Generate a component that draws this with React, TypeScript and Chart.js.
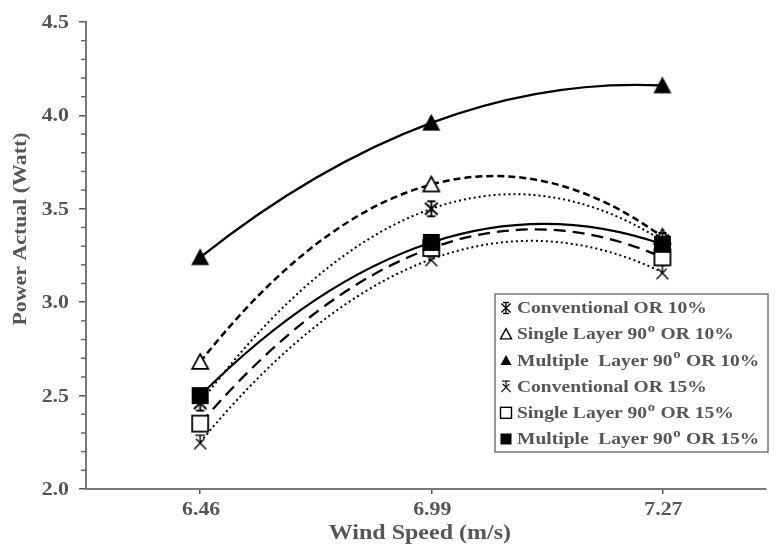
import React, { useEffect, useRef } from 'react';
import { Chart, registerables } from 'chart.js';
Chart.register(...registerables);

// ---- data ----
const windSpeeds = ['6.46', '6.99', '7.27'];
const conv10 = [2.46, 3.5, 3.33];
const single10 = [2.68, 3.63, 3.35];
const multi10 = [3.24, 3.96, 4.16];
const conv15 = [2.25, 3.23, 3.16];
const single15 = [2.35, 3.29, 3.24];
const multi15 = [2.5, 3.32, 3.31];
const seriesNames = [
  'Conventional OR 10%',
  'Single Layer 90^o OR 10%',
  'Multiple  Layer 90^o OR 10%',
  'Conventional OR 15%',
  'Single Layer 90^o OR 15%',
  'Multiple  Layer 90^o OR 15%',
];
const yMin = 2.0;
const yMax = 4.5;
const yMajorStep = 0.5;
const yMinorStep = 0.1;
const xTitle = 'Wind Speed (m/s)';
const yTitle = 'Power Actual (Watt)';

const FONT = '"Liberation Serif", "Times New Roman", serif';
const TEXT = '#555555';

type Kind = 'star' | 'triOpen' | 'triFilled' | 'cross15' | 'sqOpen' | 'sqFilled';

function drawMarker(ctx: CanvasRenderingContext2D, kind: Kind, cx: number, cy: number, s: number) {
  const h = s / 2;
  ctx.save();
  ctx.strokeStyle = '#000';
  ctx.fillStyle = '#000';
  ctx.setLineDash([]);
  const line = (x1: number, y1: number, x2: number, y2: number) => {
    ctx.beginPath();
    ctx.moveTo(x1, y1);
    ctx.lineTo(x2, y2);
    ctx.stroke();
  };
  switch (kind) {
    case 'triFilled':
    case 'triOpen': {
      ctx.beginPath();
      ctx.moveTo(cx, cy - h);
      ctx.lineTo(cx + h, cy + h * 0.85);
      ctx.lineTo(cx - h, cy + h * 0.85);
      ctx.closePath();
      if (kind === 'triFilled') ctx.fill();
      else {
        ctx.fillStyle = '#fff';
        ctx.fill();
        ctx.lineWidth = Math.max(1.4, s / 9);
        ctx.stroke();
      }
      break;
    }
    case 'sqFilled':
      ctx.fillRect(cx - h, cy - h, s, s);
      break;
    case 'sqOpen':
      ctx.fillStyle = '#fff';
      ctx.fillRect(cx - h, cy - h, s, s);
      ctx.lineWidth = Math.max(1.4, s / 9);
      ctx.strokeRect(cx - h, cy - h, s, s);
      break;
    case 'star':
      ctx.lineWidth = Math.max(1.4, s / 8);
      line(cx, cy - h, cx, cy + h);
      line(cx - h * 0.85, cy - h * 0.8, cx + h * 0.85, cy + h * 0.8);
      line(cx + h * 0.85, cy - h * 0.8, cx - h * 0.85, cy + h * 0.8);
      line(cx - h * 0.55, cy - h, cx + h * 0.55, cy - h);
      line(cx - h * 0.55, cy + h, cx + h * 0.55, cy + h);
      break;
    case 'cross15':
      ctx.lineWidth = Math.max(1.2, s / 10);
      line(cx - h * 0.7, cy - h, cx + h * 0.7, cy - h);
      line(cx, cy - h, cx, cy - h * 0.1);
      line(cx - h * 0.6, cy - h * 0.5, cx + h * 0.85, cy + h);
      line(cx + h * 0.6, cy - h * 0.5, cx - h * 0.85, cy + h);
      break;
  }
  ctx.restore();
}

function markerCanvas(kind: Kind, s: number): HTMLCanvasElement {
  const c = document.createElement('canvas');
  const size = Math.ceil(s + 4);
  c.width = size;
  c.height = size;
  const ctx = c.getContext('2d')!;
  drawMarker(ctx, kind, size / 2, size / 2, s);
  return c;
}

const kinds: Kind[] = ['star', 'triOpen', 'triFilled', 'cross15', 'sqOpen', 'sqFilled'];
const dataSizes = [15, 16, 18, 14, 16, 17];
const dashes: number[][] = [[2, 3], [7, 4], [], [2, 3], [12, 7], []];
const widths = [2, 2.5, 2.3, 2, 2.3, 2.2];
const orders = [3, 4, 2, 5, 1, 0];

function sText(
  ctx: CanvasRenderingContext2D,
  text: string,
  x: number,
  y: number,
  align: CanvasTextAlign,
  sx: number,
) {
  ctx.save();
  ctx.translate(x, y);
  ctx.scale(sx, 1);
  ctx.textAlign = align;
  ctx.fillText(text, 0, 0);
  ctx.restore();
}

// Smooth each series with the parabola through its three points (like a 2nd order trendline)
const quadCurvePlugin = {
  id: 'quadCurve',
  beforeDatasetDraw(chart: any, args: any) {
    const meta = args.meta;
    const line = meta.dataset;
    if (!line || !line.updateControlPoints) return;
    line.updateControlPoints(chart.chartArea, 'x');
    const pts = meta.data;
    if (pts.length !== 3) return;
    const [a, b, c] = pts;
    const x0 = a.x, x1 = b.x, x2 = c.x, y0 = a.y, y1 = b.y, y2 = c.y;
    const deriv = (x: number) =>
      (y0 * (2 * x - x1 - x2)) / ((x0 - x1) * (x0 - x2)) +
      (y1 * (2 * x - x0 - x2)) / ((x1 - x0) * (x1 - x2)) +
      (y2 * (2 * x - x0 - x1)) / ((x2 - x0) * (x2 - x1));
    pts.forEach((p: any, i: number) => {
      const m = deriv(p.x);
      const dPrev = i > 0 ? (p.x - pts[i - 1].x) / 3 : 0;
      const dNext = i < pts.length - 1 ? (pts[i + 1].x - p.x) / 3 : 0;
      p.cp1x = p.x - dPrev;
      p.cp1y = p.y - dPrev * m;
      p.cp2x = p.x + dNext;
      p.cp2y = p.y + dNext * m;
    });
  },
};

const overlayPlugin = {
  id: 'overlay',
  afterDraw(chart: any) {
    const ctx: CanvasRenderingContext2D = chart.ctx;
    const ys = chart.scales.y;
    const xs = chart.scales.x;
    const ca = chart.chartArea;
    // minor ticks
    ctx.save();
    ctx.strokeStyle = '#666';
    ctx.lineWidth = 1.5;
    for (let v = yMin; v <= yMax + 1e-9; v += yMinorStep) {
      const r = Math.round(v * 10) / 10;
      if (Math.abs(r / yMajorStep - Math.round(r / yMajorStep)) < 1e-6) continue;
      const py = ys.getPixelForValue(r);
      ctx.beginPath();
      ctx.moveTo(ca.left - 5, py);
      ctx.lineTo(ca.left, py);
      ctx.stroke();
    }
    ctx.restore();

    // tick labels
    ctx.save();
    ctx.fillStyle = TEXT;
    ctx.font = `bold 19px ${FONT}`;
    ctx.textBaseline = 'middle';
    ys.ticks.forEach((t: any) => {
      sText(ctx, Number(t.value).toFixed(1), ca.left - 17, ys.getPixelForValue(t.value) + 1, 'right', 1.15);
    });
    xs.ticks.forEach((t: any) => {
      sText(ctx, windSpeeds[t.value], xs.getPixelForValue(t.value) + 1, ca.bottom + 21, 'center', 1.15);
    });
    // titles
    ctx.font = `bold 20px ${FONT}`;
    sText(ctx, xTitle, (ca.left + ca.right) / 2 - 6, ca.bottom + 45, 'center', 1.2);
    ctx.translate(21, 229);
    ctx.rotate(-Math.PI / 2);
    ctx.font = `bold 19px ${FONT}`;
    sText(ctx, yTitle, 0, 0, 'center', 1.15);
    ctx.restore();

    // legend
    const bx = 495, by = 294, bw = 273, bh = 158;
    ctx.save();
    ctx.fillStyle = '#fff';
    ctx.fillRect(bx, by, bw, bh);
    ctx.strokeStyle = '#777';
    ctx.lineWidth = 1.5;
    ctx.strokeRect(bx, by, bw, bh);
    ctx.textBaseline = 'middle';
    seriesNames.forEach((name, i) => {
      const cy = by + 14 + i * 26.2;
      drawMarker(ctx, kinds[i], 506, cy, 11);
      ctx.save();
      ctx.translate(517, cy + 1);
      ctx.scale(1.22, 1);
      let x = 0;
      const parts = name.split('^o');
      parts.forEach((p, j) => {
        ctx.font = `bold 16px ${FONT}`;
        ctx.fillStyle = TEXT;
        ctx.fillText(p, x, 0);
        x += ctx.measureText(p).width;
        if (j < parts.length - 1) {
          ctx.font = `bold 12px ${FONT}`;
          ctx.fillText('o', x + 0.5, -6);
          x += ctx.measureText('o').width + 1;
        }
      });
      ctx.restore();
    });
    ctx.restore();
  },
};

export default function App() {
  const ref = useRef<HTMLCanvasElement>(null);
  useEffect(() => {
    if (!ref.current) return;
    const series = [conv10, single10, multi10, conv15, single15, multi15];
    const datasets = series.map((vals, i) => ({
      label: seriesNames[i].replace('^o', 'o'),
      data: vals.map((v, k) => ({ x: k, y: v })),
      borderColor: '#000',
      backgroundColor: '#000',
      borderWidth: widths[i],
      borderDash: dashes[i],
      pointStyle: markerCanvas(kinds[i], dataSizes[i]),
      pointRadius: dataSizes[i] / 2,
      tension: 0.4,
      order: orders[i],
      fill: false,
    }));
    const chart = new Chart(ref.current, {
      type: 'line',
      data: { datasets },
      plugins: [quadCurvePlugin, overlayPlugin],
      options: {
        animation: false,
        responsive: false,
        maintainAspectRatio: false,
        layout: { padding: { left: 0, right: 0, top: 22, bottom: 0 } },
        plugins: { legend: { display: false }, tooltip: { enabled: false } },
        scales: {
          x: {
            type: 'linear',
            min: -0.494,
            max: 2.447,
            afterBuildTicks: (scale: any) => {
              scale.ticks = windSpeeds.map((_, k) => ({ value: k }));
            },
            afterFit: (scale: any) => {
              scale.height = 58;
            },
            ticks: { display: false },
            grid: { drawOnChartArea: false, tickLength: 5, color: '#555', lineWidth: 1.5 },
            border: { color: '#777', width: 2 },
          },
          y: {
            type: 'linear',
            min: yMin,
            max: yMax,
            afterFit: (scale: any) => {
              scale.width = 86;
            },
            ticks: { stepSize: yMajorStep, display: false },
            grid: { drawOnChartArea: false, tickLength: 7, color: '#555', lineWidth: 1.5 },
            border: { color: '#777', width: 2 },
          },
        },
      },
    } as any);
    return () => chart.destroy();
  }, []);
  return (
    <div style={{ position: 'fixed', left: 0, top: 0, width: 777, height: 547, background: '#fff' }}>
      <canvas ref={ref} width={777} height={547} style={{ width: 777, height: 547 }} />
    </div>
  );
}
